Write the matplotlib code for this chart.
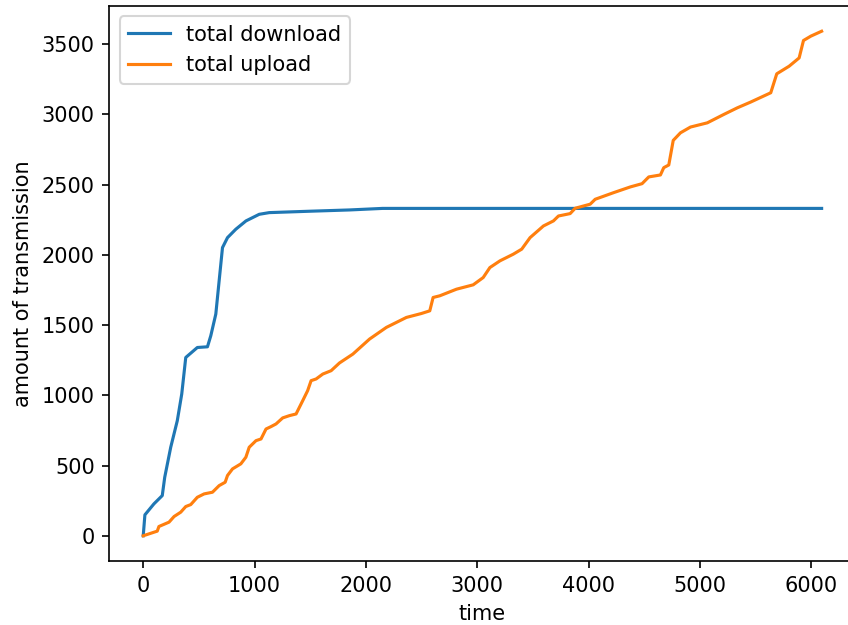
import matplotlib
matplotlib.use('Agg')
import matplotlib.pyplot as plt

# download curve (time, cumulative amount)
download_time = [0, 15, 96, 171, 193, 247, 306, 346, 382, 486, 577, 607, 652, 682,
                 712, 757, 832, 923, 1042, 1132, 1500, 1853, 2150, 3000, 4000, 5000, 6094]
download_amount = [0, 149, 227, 286, 416, 630, 819, 1009, 1269, 1340, 1345, 1424, 1578, 1815,
                   2051, 2122, 2182, 2241, 2288, 2300, 2310, 2319, 2330, 2330, 2330, 2330, 2330]

# upload curve
upload_time = [0, 126, 141, 232, 277, 337, 382, 427, 486, 547, 622, 682, 736, 757, 802, 877,
               922, 952, 1013, 1058, 1103, 1148, 1193, 1253, 1313, 1373, 1433, 1477, 1508,
               1553, 1613, 1688, 1763, 1883, 2033, 2184, 2364, 2499, 2574, 2604, 2664, 2814,
               2964, 3054, 3114, 3205, 3324, 3400, 3475, 3595, 3685, 3730, 3835, 3880, 4015,
               4060, 4225, 4376, 4481, 4541, 4646, 4676, 4721, 4761, 4826, 4916, 5067, 5216,
               5337, 5457, 5637, 5691, 5802, 5892, 5931, 5997, 6094]
upload_amount = [0, 33, 66, 97, 137, 168, 208, 222, 274, 298, 310, 357, 381, 429, 476, 512,
                 559, 630, 677, 689, 760, 777, 796, 839, 855, 867, 962, 1033, 1104,
                 1116, 1151, 1175, 1230, 1293, 1400, 1483, 1554, 1582, 1601, 1696, 1708, 1755,
                 1786, 1838, 1909, 1957, 2004, 2040, 2122, 2205, 2241, 2276, 2293, 2331, 2360,
                 2395, 2442, 2483, 2506, 2554, 2568, 2620, 2639, 2814, 2868, 2909, 2939, 2999,
                 3046, 3087, 3153, 3288, 3342, 3401, 3525, 3556, 3591]

fig = plt.figure(figsize=(848 / 150, 625 / 150), dpi=150)
# right edge of the axes lies past the image border, as in the cropped original
ax = fig.add_axes([0.1289, 0.1024, 0.8800, 0.8880])

ax.plot(download_time, download_amount, label='total download')
ax.plot(upload_time, upload_amount, label='total upload')
ax.set_xlabel('time')
ax.set_ylabel('amount of transmission')
ax.legend(loc='upper left')

fig.savefig('out.png', dpi=150)
